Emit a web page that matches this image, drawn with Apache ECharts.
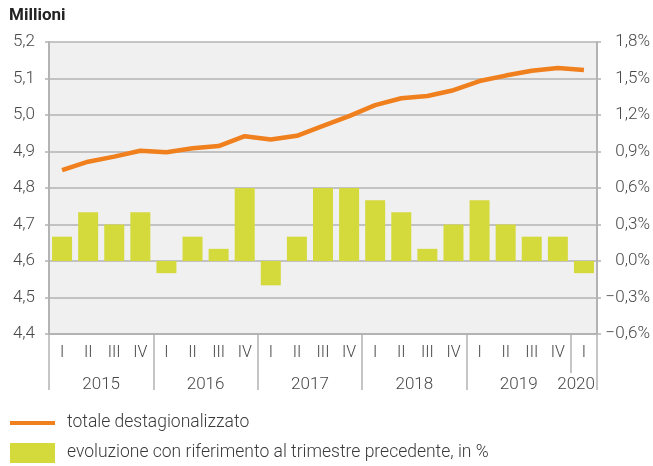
<!DOCTYPE html>
<html>
<head>
<meta charset="utf-8">
<script src="https://cdn.jsdelivr.net/npm/echarts@6/dist/echarts.min.js"></script>
<style>html,body{margin:0;padding:0;background:#fff}#c{width:653px;height:466px}</style>
</head>
<body>
<div id="c"></div>
<script>
const quarters = ['I','II','III','IV','I','II','III','IV','I','II','III','IV','I','II','III','IV','I','II','III','IV','I'];
const years = ['2015','2016','2017','2018','2019','2020'];
const yearCenters = [2, 6, 10, 14, 18, 20.2];
const yearBounds = [0, 4, 8, 12, 16, 21];
const totale = [4.849,4.872,4.886,4.902,4.898,4.909,4.915,4.942,4.933,4.943,4.970,4.997,5.027,5.046,5.052,5.068,5.093,5.108,5.121,5.129,5.123];
const evoluzione = [0.2,0.4,0.3,0.4,-0.1,0.2,0.1,0.6,-0.2,0.2,0.6,0.6,0.5,0.4,0.1,0.3,0.5,0.3,0.2,0.2,-0.1];
const leftTicks = {min: 4.4, max: 5.2, interval: 0.1};
const rightTicks = {min: -0.6, max: 1.8, interval: 0.3};

const FONT = 'Roboto';
const gridCol = '#b3b3b3';
const labCol = '#484848';
const chart = echarts.init(document.getElementById('c'), null, {renderer: 'canvas'});
chart.setOption({
  animation: false,
  textStyle: {fontFamily: FONT},
  title: {
    text: 'Millioni', left: 4, top: 2,
    textStyle: {fontFamily: FONT, fontSize: 17, fontWeight: 'bold', color: '#222'}
  },
  grid: {left: 49, right: 56, top: 42, bottom: 132, show: true, backgroundColor: '#f0f0f0', borderWidth: 0},
  legend: {
    orient: 'vertical', left: 10, top: 413, padding: 0, itemWidth: 45, itemHeight: 20, itemGap: 10,
    textStyle: {fontFamily: FONT, fontSize: 17.5, lineHeight: 20, color: '#3a3a3a', fontWeight: 300, padding: [0, 0, 0, 7]},
    data: [
      {name: 'totale destagionalizzato', icon: 'path://M0,8 L45,8 L45,12 L0,12 Z'},
      {name: 'evoluzione con riferimento al trimestre precedente, in %', icon: 'rect'}
    ]
  },
  xAxis: [
    {
      type: 'category', data: quarters, position: 'bottom', boundaryGap: true,
      axisLine: {show: true, onZero: false, lineStyle: {color: gridCol, width: 2}},
      axisTick: {show: true, length: 39, interval: (i) => i % 4 === 0 || i === 20, lineStyle: {color: gridCol, width: 1.5}},
      axisLabel: {interval: 0, margin: 11, fontSize: 16, color: labCol, fontWeight: 300, fontFamily: FONT},
      splitLine: {show: false}
    },
    {
      type: 'value', min: 0, max: 21, position: 'bottom', offset: 39,
      axisLine: {show: false, onZero: false},
      axisTick: {show: true, length: 17, customValues: yearBounds, lineStyle: {color: gridCol, width: 1.5}},
      axisLabel: {
        customValues: yearCenters, margin: 3, fontSize: 17, color: labCol, fontWeight: 300, fontFamily: FONT,
        formatter: (v) => years[yearCenters.indexOf(v)] || ''
      },
      splitLine: {show: false}
    }
  ],
  yAxis: [
    {
      type: 'value', position: 'left', min: leftTicks.min, max: leftTicks.max, interval: leftTicks.interval,
      axisLine: {show: true, onZero: false, lineStyle: {color: gridCol, width: 2}},
      axisTick: {show: true, length: 4, lineStyle: {color: gridCol, width: 1.5}},
      axisLabel: {margin: 14, fontSize: 17, color: labCol, fontWeight: 300, fontFamily: FONT,
        formatter: (v) => v.toFixed(1).replace('.', ',')},
      splitLine: {show: true, lineStyle: {color: gridCol, width: 1.5}}
    },
    {
      type: 'value', position: 'right', min: rightTicks.min, max: rightTicks.max, interval: rightTicks.interval,
      axisLine: {show: true, onZero: false, lineStyle: {color: gridCol, width: 2}},
      axisTick: {show: true, length: 4, lineStyle: {color: gridCol, width: 1.5}},
      axisLabel: {margin: 53, align: 'right', fontSize: 17, color: labCol, fontWeight: 300, fontFamily: FONT,
        formatter: (v) => v.toFixed(1).replace('.', ',').replace('-', '\u2212') + '%'},
      splitLine: {show: false}
    }
  ],
  series: [
    {
      name: 'evoluzione con riferimento al trimestre precedente, in %', type: 'bar', yAxisIndex: 1,
      data: evoluzione, barWidth: 20, itemStyle: {color: '#d4da3c'}, z: 2
    },
    {
      name: 'totale destagionalizzato', type: 'line', yAxisIndex: 0,
      data: totale, symbol: 'none', lineStyle: {color: '#f07f1d', width: 4.5}, itemStyle: {color: '#f07f1d'}, z: 3
    }
  ]
});
</script>
</body>
</html>
